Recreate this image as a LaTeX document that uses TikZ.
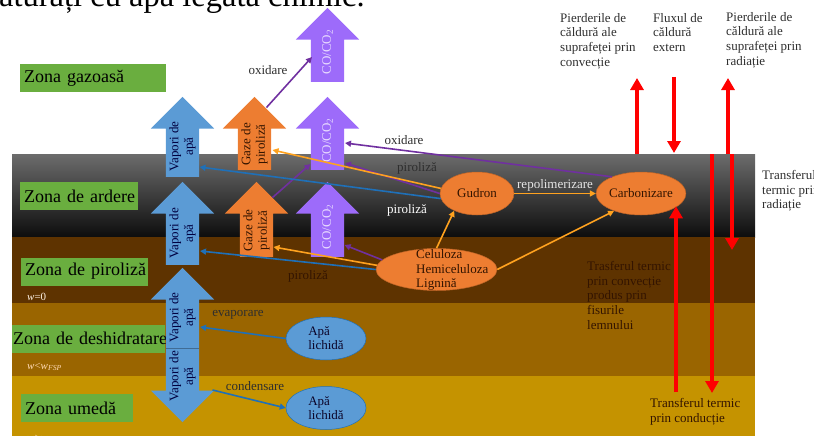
\documentclass[tikz,border=0pt]{standalone}
\usepackage{fontspec}
\setmainfont{Liberation Serif}
\usepackage{tikz}
\usetikzlibrary{shapes.geometric, shapes.arrows, arrows.meta, positioning, calc}
\definecolor{vapblue}{HTML}{5B9BD5}
\definecolor{gazorange}{HTML}{ED7D31}
\definecolor{copurple}{HTML}{9D6BFA}
\definecolor{lnpurple}{HTML}{7030A0}
\definecolor{lnorange}{HTML}{FFA21F}
\definecolor{lnblue}{HTML}{1F70B8}
\definecolor{zgreen}{HTML}{6AAE3F}
\definecolor{ardtop}{HTML}{6C6C6C}
\definecolor{zpiro}{HTML}{5E3300}
\definecolor{zdesh}{HTML}{9A6500}
\definecolor{zumed}{HTML}{C59300}
\definecolor{heatred}{HTML}{FF0000}
\definecolor{darktxt}{HTML}{2E2E2E}
\definecolor{browntxt}{HTML}{331400}
\tikzstyle{zona}    = [rectangle, fill=zgreen, minimum height=28pt, inner xsep=4pt,
                       inner ysep=0pt, anchor=west, align=left,
                       font=\fontsize{18}{20}\selectfont]
\tikzstyle{blockarr}= [single arrow, single arrow head extend=15pt, inner xsep=0pt,
                       inner ysep=16.5pt, minimum width=63pt, rotate=90, anchor=tail]
\tikzstyle{vapori}  = [blockarr, fill=vapblue]
\tikzstyle{gaze}    = [blockarr, fill=gazorange]
\tikzstyle{coco}    = [blockarr, fill=copurple]
\tikzstyle{arrtxt}  = [rotate=90, align=center, inner sep=0pt,
                       font=\fontsize{13}{14.5}\selectfont]
\tikzstyle{oval}    = [ellipse, fill=gazorange, draw=gazorange!80!black, line width=0.5pt,
                       inner sep=0pt, text=browntxt, font=\fontsize{13}{14}\selectfont]
\tikzstyle{ovalapa} = [ellipse, fill=vapblue, draw=lnblue, line width=0.5pt,
                       inner sep=0pt, minimum width=80pt, minimum height=43pt,
                       align=left, text=browntxt!60!blue!40!black,
                       font=\fontsize{13}{14}\selectfont]
\tikzstyle{lbl}     = [font=\fontsize{13}{14.7}\selectfont, text=darktxt, inner sep=0pt]
\tikzstyle{wlbl}    = [font=\fontsize{11}{12}\selectfont\itshape, inner sep=0pt, anchor=west]
\tikzstyle{arrowbl} = [-{Triangle[length=6pt,width=6pt]}, line width=1.6pt, color=lnblue]
\tikzstyle{arrowor} = [-{Triangle[length=6pt,width=6pt]}, line width=1.6pt, color=lnorange]
\tikzstyle{arrowpu} = [-{Triangle[length=6pt,width=6pt]}, line width=1.6pt, color=lnpurple]
\tikzstyle{heat}    = [-{Triangle[length=12pt,width=13pt]}, line width=4.5pt, color=heatred]

\begin{document}
\begin{tikzpicture}[x=1pt, y=-1pt]
  \useasboundingbox (0,0) rectangle (814,436);

  %% Zones of the wood slab
  \shade[top color=ardtop, bottom color=black!95] (12,154) rectangle (755,237);
  \fill[zpiro] (12,237) rectangle (755,303);
  \fill[zdesh] (12,303) rectangle (755,376);
  \fill[zumed] (12,376) rectangle (755,440);

  %% Title fragment
  \node[anchor=base west, inner sep=0pt, font=\fontsize{32.5}{33}\selectfont] (titlu)
        at (-1,7) {aturați cu apă legată chimic.};

  %% Zone labels
  \node[zona, text width=138pt] (zgaz) at (20,78)  {\mbox{Zona gazoasă}};
  \node[zona, text width=110pt] (zard) at (20,196) {\mbox{Zona de ardere}};
  \node[zona, text width=119pt] (zpir) at (21,271.5) {\mbox{Zona de piroliză}};
  \node[zona, text width=151pt, inner xsep=1pt] (zdes) at (12,338.5) {\mbox{Zona de deshidratare}};
  \node[zona, text width=104pt] (zume) at (21,408) {\mbox{Zona umedă}};
  \node[wlbl, text=white!90!orange] (w0) at (27,297) {w\upshape =0};
  \node[wlbl, text=orange!30!white] (wfsp) at (27,367) {w\upshape <\itshape w\textsubscript{FSP}};
  \node[wlbl, text=orange!30!white] (wumed) at (27,439) {w\upshape ≥\itshape w\textsubscript{FSP}};

  %% Block arrows (placed by their tails)
  \node[vapori, minimum height=80pt] (vap1) at (182.5,177) {};
  \node[vapori, minimum height=83pt] (vap2) at (182.5,265) {};
  \node[vapori, minimum height=80pt] (vapsus) at (182.5,348) {};
  \node[vapori, minimum height=74pt, rotate=180] (vapjos) at (182.5,348) {};
  \node[gaze, minimum height=73pt] (gaz1) at (254.5,170) {};
  \node[gaze, minimum height=75pt] (gaz2) at (256.5,257) {};
  \node[coco, minimum height=74pt] (co1) at (327.5,82) {};
  \node[coco, minimum height=73pt] (co2) at (327.5,170) {};
  \node[coco, minimum height=75pt] (co3) at (327.5,257) {};
  \draw[vapblue!70!black, line width=0.4pt] (166,348) -- (199,348);

  \foreach \v in {vap1, vap2, vapsus, vapjos}
    \node[arrtxt, text=blue!25!black] at ($(\v.tail)!0.38!(\v.tip)$) {Vapori de\\apă};
  \foreach \g in {gaz1, gaz2}
    \node[arrtxt, text=browntxt] at ($(\g.tail)!0.35!(\g.tip)$) {Gaze de\\piroliză};
  \foreach \c in {co1, co2, co3}
    \node[arrtxt, text=copurple!25!white] at ($(\c.tail)!0.4!(\c.tip)$) {CO/CO\textsubscript{2}};

  %% Ovals
  \node[oval, minimum width=74pt, minimum height=43pt] (gud) at (477,193.5) {Gudron};
  \node[oval, minimum width=74pt, minimum height=43pt] (carb) at (641,193.5) {Carbonizare};
  \node[oval, minimum width=121pt, minimum height=42pt] (cel) at (436.5,269.5) {};
  \node[lbl, align=left, text=browntxt, anchor=west] (celtxt) at (416,270)
        {Celuloza\\Hemiceluloza\\Lignină};
  \node[ovalapa] (apa1) at (326,338.5) {Apă\\lichidă};
  \node[ovalapa] (apa2) at (326,408) {Apă\\lichidă};

  %% Connectors
  \draw[arrowpu] ($(gaz1.tip)+(12,11)$) -- ($(co1.tail)+(-15.5,-25)$);
  \draw[arrowpu] (carb.150) -- ($(co2.tail)+(17.5,-27)$);
  \draw[arrowpu] (gud.180) -- ($(co2.tail)+(17.5,-7)$);
  \draw[arrowpu] ($(gaz2.tip)+(16,16)$) -- ($(co2.tail)+(-17,-6)$);
  \draw[arrowpu] (cel.170) -- ($(co3.tail)+(17,-12)$);
  \draw[arrowor] (gud.172) -- ($(gaz1.tail)+(18,-20)$);
  \draw[arrowor] (cel.176) -- ($(gaz2.tail)+(17,-10)$);
  \draw[arrowor] (cel.north) -- (gud.217);
  \draw[arrowor] (cel.east) -- (carb.213);
  \draw[arrowor] (gud.east) -- node[above=1pt, lbl, text=white!90!black]{repolimerizare} (carb.west);
  \draw[arrowbl] (gud.188) -- ($(vap1.tail)+(17,-10)$);
  \draw[arrowbl] (cel.west) -- ($(vap2.tail)+(17.5,-14)$);
  \draw[arrowbl] (apa1.west) -- ($(vapsus.tail)+(17.5,-21)$);
  \draw[arrowbl] ($(vapjos.tail)+(30,42)$) -- (apa2.west);

  %% Connector labels
  \node[lbl] (ox1) at (268,70) {oxidare};
  \node[lbl] (ox2) at (404,140) {oxidare};
  \node[lbl] (pir1) at (417,168) {piroliză};
  \node[lbl, text=white] (pir2) at (407,210) {piroliză};
  \node[lbl, text=browntxt] (pir3) at (308,276) {piroliză};
  \node[lbl] (evap) at (238,315) {evaporare};
  \node[lbl] (cond) at (255,386) {condensare};

  %% Heat flows
  \coordinate (pc0) at (637,154); \coordinate (pc1) at (637,78);
  \coordinate (fx0) at (674,77);  \coordinate (fx1) at (674,153);
  \coordinate (pr0) at (728,154); \coordinate (pr1) at (728,78);
  \coordinate (cd0) at (712,154); \coordinate (cd1) at (712,393);
  \coordinate (rd0) at (732,154); \coordinate (rd1) at (732,250);
  \coordinate (cf0) at (676,392);
  \draw[heat] (pc0) -- (pc1);
  \draw[heat] (fx0) -- (fx1);
  \draw[heat] (pr0) -- (pr1);
  \draw[heat] (cd0) -- (cd1);
  \draw[heat] (rd0) -- (rd1);
  \draw[heat] (cf0) -- ($(cf0 |- carb.south)+(0,-9)$);

  \node[lbl, align=left, anchor=north west] (pconv) at (560,13)
        {Pierderile de\\căldură ale\\suprafeței prin\\convecție};
  \node[lbl, align=left, anchor=north west] (flux) at (653,13)
        {Fluxul de\\căldură\\extern};
  \node[lbl, align=left, anchor=north west] (prad) at (726,12)
        {Pierderile de\\căldură ale\\suprafeței prin\\radiație};
  \node[lbl, align=left, anchor=north west] (trad) at (762,170)
        {Transferul\\termic prin\\radiație};
  \node[lbl, align=left, anchor=north west, text=browntxt] (tconv) at (587,261)
        {Trasferul termic\\prin convecție\\produs prin\\fisurile\\lemnului};
  \node[lbl, align=left, anchor=north west, text=browntxt] (tcond) at (650,398)
        {Transferul termic\\prin conducție};

\end{tikzpicture}
\end{document}
